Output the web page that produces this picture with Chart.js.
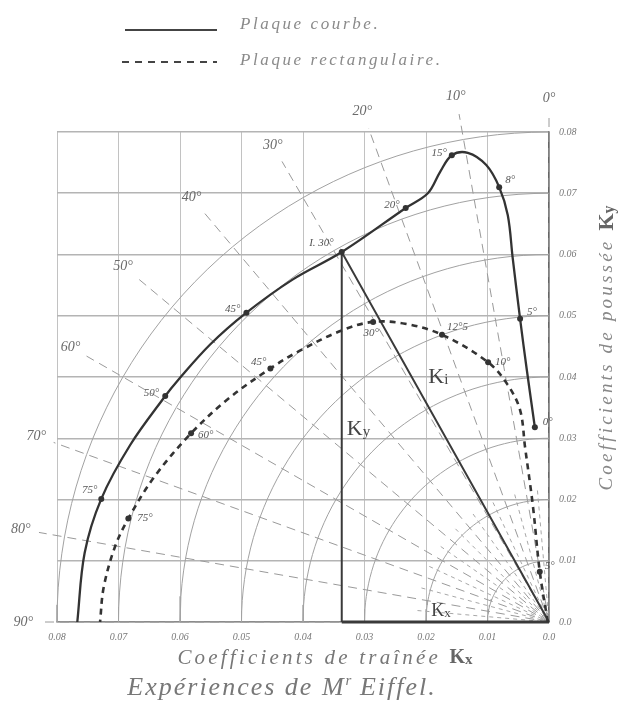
<!DOCTYPE html>
<html><head><meta charset="utf-8">
<script src="https://cdn.jsdelivr.net/npm/chart.js@4.4.1/dist/chart.umd.min.js"></script>
<style>html,body{margin:0;padding:0;background:#fff}#wrap{width:631px;height:711px}</style>
</head><body><div id="wrap"><canvas id="c" width="631" height="711"></canvas></div>
<script>
// ---- data ----
const xTickValues = [0, 0.01, 0.02, 0.03, 0.04, 0.05, 0.06, 0.07, 0.08];
const xTickLabels = ['0.0', '0.01', '0.02', '0.03', '0.04', '0.05', '0.06', '0.07', '0.08'];
const yTickValues = [0, 0.01, 0.02, 0.03, 0.04, 0.05, 0.06, 0.07, 0.08];
const yTickLabels = ['0.0', '0.01', '0.02', '0.03', '0.04', '0.05', '0.06', '0.07', '0.08'];

// Plaque courbe (Kx, Ky)
const courbeKx = [0.0023, 0.0036, 0.0047, 0.0059, 0.0067, 0.0081, 0.0102, 0.0132, 0.0158, 0.0177, 0.0197, 0.0233, 0.0337, 0.0417, 0.0492, 0.0551, 0.0604, 0.0624, 0.0681, 0.0728, 0.0755, 0.0767];
const courbeKy = [0.0318, 0.0411, 0.0495, 0.0594, 0.0664, 0.0710, 0.0746, 0.0766, 0.0762, 0.0735, 0.0700, 0.0676, 0.0604, 0.0559, 0.0505, 0.0453, 0.0394, 0.0369, 0.0289, 0.0201, 0.0113, 0.0];
const courbeLabels = ['0°', '', '5°', '', '', '8°', '', '', '15°', '', '', '20°', 'I. 30°', '', '45°', '', '', '50°', '', '75°', '', ''];

// Plaque rectangulaire (Kx, Ky)
const rectKx = [0.0002, 0.0015, 0.0026, 0.0039, 0.0047, 0.0067, 0.0099, 0.0174, 0.0234, 0.0286, 0.0337, 0.0405, 0.0453, 0.0522, 0.0582, 0.0641, 0.0684, 0.0706, 0.0724, 0.0730];
const rectKy = [0.0, 0.0082, 0.0188, 0.0286, 0.0346, 0.0387, 0.0424, 0.0469, 0.0487, 0.0490, 0.0476, 0.0443, 0.0414, 0.0364, 0.0308, 0.0238, 0.0169, 0.0122, 0.0057, 0.0];
const rectLabels = ['', '5°', '', '', '', '', '10°', '12°5', '', '30°', '', '', '45°', '', '60°', '', '75°', '', '', ''];

const circleRadii = [0.01, 0.02, 0.03, 0.04, 0.05, 0.06, 0.07, 0.08];
const rayAngles = [0, 10, 20, 30, 40, 50, 60, 70, 80, 90];
const rayLabels = ['0°', '10°', '20°', '30°', '40°', '50°', '60°', '70°', '80°', '90°'];
const minorRayAngles = [5, 15, 25, 35, 45, 55, 65, 75, 85];
const vectorIndex = 12; // the "I. 30°" point of the curved plate

// ---- styles ----
const INK = '#333';
const GREY_TXT = '#707070';
const SERIF = '"Liberation Serif", "DejaVu Serif", serif';
const labelPlace = {
  courbe: {'0°': [8, -5, 'left'], '5°': [7, -7, 'left'], '8°': [6, -7, 'left'], '15°': [-5, -2, 'right'],
           '20°': [-6, -3, 'right'], 'I. 30°': [-8, -9, 'right'], '45°': [-6, -4, 'right'],
           '50°': [-6, -3, 'right'], '75°': [-4, -9, 'right']},
  rect: {'5°': [5, -6, 'left'], '10°': [7, 0, 'left'], '12°5': [5, -8, 'left'], '30°': [-2, 11, 'center'],
         '45°': [-4, -6, 'right'], '60°': [7, 2, 'left'], '75°': [9, 0, 'left']}
};

const pts = (xs, ys) => xs.map((x, i) => ({x: x, y: ys[i]}));
const rad = d => d * Math.PI / 180;
const rayLabelR = a => 0.0855 + 0.005 * Math.sin(rad(2 * a));

const datasets = [];
datasets.push({
  label: 'Plaque courbe', data: pts(courbeKx, courbeKy), showLine: true, borderColor: INK, borderWidth: 2.3,
  tension: 0.35, pointRadius: courbeLabels.map(l => l ? 3 : 0), pointBackgroundColor: INK, pointBorderWidth: 0, clip: false
});
datasets.push({
  label: 'Plaque rectangulaire', data: pts(rectKx, rectKy), showLine: true, borderColor: INK, borderWidth: 2.6,
  borderDash: [6, 5], tension: 0.35, pointRadius: rectLabels.map(l => l ? 3 : 0), pointBackgroundColor: INK, pointBorderWidth: 0, clip: false
});
// vector triangle Kx, Ky, Ki
const vx = courbeKx[vectorIndex], vy = courbeKy[vectorIndex];
datasets.push({
  label: 'vector', data: [{x: vx, y: 0}, {x: vx, y: vy}, {x: 0, y: 0}], showLine: true, borderColor: '#3a3a3a',
  borderWidth: 2, pointRadius: 0, tension: 0, clip: false
});
datasets.push({
  label: 'Kx', data: [{x: vx, y: 0}, {x: 0, y: 0}], showLine: true, borderColor: '#3a3a3a',
  borderWidth: 3, pointRadius: 0, clip: false
});
rayAngles.forEach(a => {
  const R = rayLabelR(a) - 0.003;
  datasets.push({label: 'ray', data: [{x: 0, y: 0}, {x: R * Math.sin(rad(a)), y: R * Math.cos(rad(a))}],
    showLine: true, borderColor: '#9a9a9a', borderWidth: 1, borderDash: [9, 6], pointRadius: 0, clip: false});
});
minorRayAngles.forEach(a => {
  const R = 0.022;
  datasets.push({label: 'ray', data: [{x: 0, y: 0}, {x: R * Math.sin(rad(a)), y: R * Math.cos(rad(a))}],
    showLine: true, borderColor: '#a8a8a8', borderWidth: 1, borderDash: [4, 4], pointRadius: 0, clip: false});
});
circleRadii.forEach(r => {
  const d = [];
  for (let a = 0; a <= 90; a += 2) d.push({x: r * Math.sin(rad(a)), y: r * Math.cos(rad(a))});
  datasets.push({label: 'circle', data: d, showLine: true, borderColor: '#a2a2a2', borderWidth: 1,
    pointRadius: 0, tension: 0, clip: false});
});

function rich(ctx, parts, x, y, align) {
  let w = 0;
  parts.forEach(p => { ctx.font = p.font; ctx.letterSpacing = p.ls || '0px'; p.w = ctx.measureText(p.text).width; w += p.w; });
  let cx = align === 'center' ? x - w / 2 : (align === 'right' ? x - w : x);
  ctx.textAlign = 'left';
  parts.forEach(p => { ctx.font = p.font; ctx.letterSpacing = p.ls || '0px'; ctx.fillStyle = p.color || GREY_TXT; ctx.fillText(p.text, cx, y + (p.dy || 0)); cx += p.w; });
  ctx.letterSpacing = '0px';
}

const deco = {
  id: 'deco',
  beforeDraw(chart) {
    const c = chart.ctx; c.save(); c.fillStyle = '#fff'; c.fillRect(0, 0, chart.width, chart.height); c.restore();
  },
  afterDraw(chart) {
    const c = chart.ctx, X = chart.scales.x, Y = chart.scales.y;
    const px = v => X.getPixelForValue(v), py = v => Y.getPixelForValue(v);
    c.save();
    c.textBaseline = 'middle';
    // legend
    c.strokeStyle = '#444'; c.lineWidth = 2;
    c.beginPath(); c.moveTo(125, 30); c.lineTo(217, 30); c.stroke();
    c.setLineDash([7, 6]); c.beginPath(); c.moveTo(122, 62); c.lineTo(217, 62); c.stroke(); c.setLineDash([]);
    rich(c, [{text: 'Plaque courbe.', font: 'italic 17px ' + SERIF, color: '#8a8a8a', ls: '2.6px'}], 240, 25, 'left');
    rich(c, [{text: 'Plaque rectangulaire.', font: 'italic 17px ' + SERIF, color: '#8a8a8a', ls: '2.6px'}], 240, 61, 'left');
    // ray labels
    rayAngles.forEach((a, i) => {
      const R = rayLabelR(a);
      rich(c, [{text: rayLabels[i], font: 'italic 14px ' + SERIF, color: '#6a6a6a'}],
        px(R * Math.sin(rad(a))), py(R * Math.cos(rad(a))), 'center');
    });
    // point labels
    const lab = (xs, ys, ls, place) => ls.forEach((l, i) => {
      if (!l) return;
      const p = place[l];
      rich(c, [{text: l, font: 'italic 11px ' + SERIF, color: '#555'}], px(xs[i]) + p[0], py(ys[i]) + p[1], p[2]);
    });
    lab(courbeKx, courbeKy, courbeLabels, labelPlace.courbe);
    lab(rectKx, rectKy, rectLabels, labelPlace.rect);
    // vector labels
    const big = '22px ' + SERIF;
    rich(c, [{text: 'K', font: big, color: '#444'}, {text: 'y', font: '15px ' + SERIF, color: '#444', dy: 3}], px(vx) + 5, (py(vy) + py(0)) / 2 - 8, 'left');
    rich(c, [{text: 'K', font: big, color: '#444'}, {text: 'i', font: '15px ' + SERIF, color: '#444', dy: 3}], (px(vx) + px(0)) / 2 - 17, (py(vy) + py(0)) / 2 - 60, 'left');
    rich(c, [{text: 'K', font: '18px ' + SERIF, color: '#444'}, {text: 'x', font: '13px ' + SERIF, color: '#444', dy: 3}], (px(vx) + px(0)) / 2 - 14, py(0) - 11, 'left');
    // axis titles
    rich(c, [{text: 'Coefficients de traînée ', font: 'italic 21px ' + SERIF, ls: '3.2px', color: '#777'},
             {text: 'K', font: 'bold 20px ' + SERIF, color: '#666'}, {text: 'x', font: 'bold 15px ' + SERIF, color: '#666', dy: 2}], 325, 658, 'center');
    rich(c, [{text: 'Expériences de M', font: 'italic 26px ' + SERIF, ls: '2px', color: '#777'},
             {text: 'r', font: 'italic 15px ' + SERIF, color: '#777', dy: -7},
             {text: ' Eiffel.', font: 'italic 26px ' + SERIF, ls: '2px', color: '#777'}], 282, 688, 'center');
    c.save();
    c.translate(607, 348); c.rotate(-Math.PI / 2);
    rich(c, [{text: 'Coefficients de poussée ', font: 'italic 19px ' + SERIF, ls: '3.2px', color: '#888'},
             {text: 'K', font: 'bold 22px ' + SERIF, color: '#666'}, {text: 'y', font: 'bold 16px ' + SERIF, color: '#666', dy: 3}], 0, 0, 'center');
    c.restore();
    c.restore();
  }
};

new Chart(document.getElementById('c'), {
  type: 'scatter',
  data: {datasets: datasets},
  options: {
    responsive: false, animation: false,
    layout: {padding: {left: 57, top: 132, right: 0, bottom: 0}},
    plugins: {legend: {display: false}, tooltip: {enabled: false}},
    scales: {
      x: {
        type: 'linear', reverse: true, min: 0, max: 0.08,
        afterBuildTicks: s => { s.ticks = xTickValues.map(v => ({value: v})); },
        afterFit: s => { s.height = 89; },
        ticks: {padding: 9, color: '#777', font: {family: SERIF, size: 10, style: 'italic'},
          callback: v => xTickLabels[xTickValues.findIndex(t => Math.abs(t - v) < 1e-9)]},
        grid: {color: '#c2c2c2', lineWidth: 1, drawTicks: false},
        border: {color: '#8a8a8a', width: 1.5}
      },
      y: {
        type: 'linear', position: 'right', min: 0, max: 0.08,
        afterBuildTicks: s => { s.ticks = yTickValues.map(v => ({value: v})); },
        afterFit: s => { s.width = 82; },
        ticks: {padding: 10, color: '#777', font: {family: SERIF, size: 10, style: 'italic'},
          callback: v => yTickLabels[yTickValues.findIndex(t => Math.abs(t - v) < 1e-9)]},
        grid: {color: '#b4b4b4', lineWidth: 1.5, drawTicks: false},
        border: {color: '#666', width: 1.5}
      }
    }
  },
  plugins: [deco]
});
</script></body></html>
